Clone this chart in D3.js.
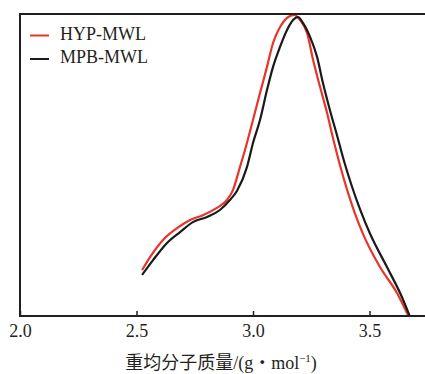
<!DOCTYPE html>
<html>
<head>
<meta charset="utf-8">
<script src="https://cdn.jsdelivr.net/npm/d3@7"></script>
<style>
  body { margin: 0; background: #fff; }
  svg { display: block; }
  text { font-family: "Liberation Serif", "Times New Roman", "Noto Sans CJK SC", serif; fill: #231f20; }
</style>
</head>
<body>
<div id="chart"></div>
<script>
// 系列名称
const seriesNames = ['HYP-MWL', 'MPB-MWL'];
const seriesColors = ['#e8352b', '#1a1a1a'];

// HYP-MWL: [lg Mw, 相对强度]
const hypData = [
  [2.524, 0.152], [2.558, 0.195], [2.614, 0.252], [2.674, 0.291], [2.730, 0.318],
  [2.785, 0.334], [2.845, 0.358], [2.888, 0.384], [2.914, 0.417], [2.944, 0.493],
  [2.974, 0.573], [3.000, 0.649], [3.030, 0.738], [3.060, 0.825], [3.086, 0.904],
  [3.116, 0.957], [3.146, 0.987], [3.176, 0.997], [3.202, 0.980], [3.232, 0.937],
  [3.258, 0.848], [3.288, 0.758], [3.318, 0.672], [3.343, 0.590], [3.373, 0.500],
  [3.403, 0.420], [3.435, 0.345], [3.472, 0.272], [3.545, 0.162], [3.618, 0.076],
  [3.665, 0.003]
];

// MPB-MWL
const mpbData = [
  [2.524, 0.136], [2.571, 0.185], [2.631, 0.242], [2.687, 0.278], [2.742, 0.311],
  [2.803, 0.328], [2.858, 0.351], [2.901, 0.384], [2.931, 0.414], [2.974, 0.493],
  [3.000, 0.573], [3.030, 0.649], [3.060, 0.748], [3.086, 0.825], [3.116, 0.891],
  [3.146, 0.947], [3.172, 0.980], [3.193, 0.990], [3.215, 0.970], [3.245, 0.924],
  [3.275, 0.858], [3.300, 0.772], [3.330, 0.682], [3.361, 0.597], [3.390, 0.515],
  [3.425, 0.428], [3.462, 0.348], [3.502, 0.273], [3.575, 0.162], [3.639, 0.063],
  [3.674, -0.003]
];

const xTicks = [2.0, 2.5, 3.0, 3.5];
const xTitle = '重均分子质量/(g・mol';

const width = 425, height = 374;
const margin = { top: 14, right: 0, bottom: 58, left: 20 };

const svg = d3.select('#chart').append('svg')
  .attr('width', width)
  .attr('height', height);

const x = d3.scaleLinear()
  .domain([2.0, 2.0 + (width - margin.left) / 233])
  .range([margin.left, width]);

const y = d3.scaleLinear()
  .domain([0, 1])
  .range([height - margin.bottom, margin.top]);

const y0 = height - margin.bottom;

// 曲线
const line = d3.line()
  .x(d => x(d[0]))
  .y(d => y(d[1]))
  .curve(d3.curveMonotoneX);

const plot = svg.append('g');
[hypData, mpbData].forEach((data, i) => {
  plot.append('path')
    .datum(data)
    .attr('fill', 'none')
    .attr('stroke', seriesColors[i])
    .attr('stroke-width', 2.2)
    .attr('d', line);
});

// 边框（左、上、下）
svg.append('path')
  .attr('d', `M${width},${margin.top}H${margin.left}V${y0}H${width}`)
  .attr('fill', 'none')
  .attr('stroke', '#231f20')
  .attr('stroke-width', 2);

// 横轴刻度（向内）
const xAxis = d3.axisBottom(x)
  .tickValues(xTicks)
  .tickSize(-5)
  .tickPadding(8)
  .tickFormat(d3.format('.1f'));

const gx = svg.append('g')
  .attr('transform', `translate(0,${y0})`)
  .call(xAxis);
gx.select('.domain').remove();
gx.selectAll('.tick line').attr('stroke', '#231f20').attr('stroke-width', 1.5);
gx.selectAll('.tick text')
  .attr('font-size', 18)
  .attr('fill', '#231f20')
  .style('font-family', '"Liberation Serif", serif');

// 横轴标题
const title = svg.append('text')
  .attr('x', 221)
  .attr('y', 369)
  .attr('text-anchor', 'middle')
  .attr('font-size', 18);
title.append('tspan').text(xTitle);
title.append('tspan').attr('font-size', 11).attr('dy', -7).text('−1');
title.append('tspan').attr('dy', 7).text(')');

// 图例
const legend = svg.append('g');
seriesNames.forEach((name, i) => {
  const base = 39.5 + i * 23.5;
  legend.append('line')
    .attr('x1', 30).attr('x2', 49)
    .attr('y1', base - 4).attr('y2', base - 4)
    .attr('stroke', seriesColors[i])
    .attr('stroke-width', 2);
  legend.append('text')
    .attr('x', 60)
    .attr('y', base)
    .attr('font-size', 18)
    .text(name);
});
</script>
</body>
</html>
